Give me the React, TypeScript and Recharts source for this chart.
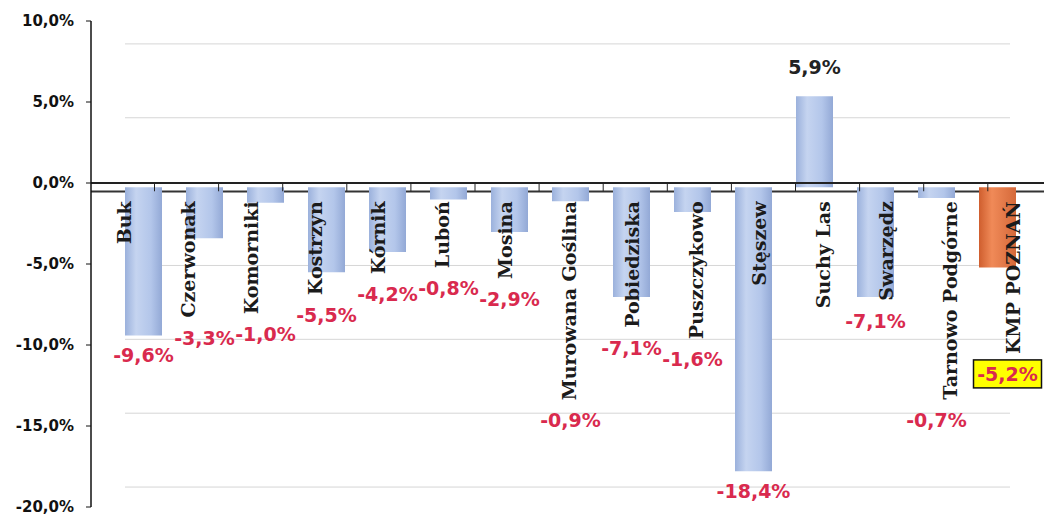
import { Bar, CartesianGrid, Cell, ComposedChart, LabelList, Line, ReferenceLine, XAxis, YAxis } from "recharts";

const categories = [
  "Buk",
  "Czerwonak",
  "Komorniki",
  "Kostrzyn",
  "Kórnik",
  "Luboń",
  "Mosina",
  "Murowana Goślina",
  "Pobiedziska",
  "Puszczykowo",
  "Stęszew",
  "Suchy Las",
  "Swarzędz",
  "Tarnowo Podgórne",
  "KMP POZNAŃ",
];
const values = [-9.6, -3.3, -1.0, -5.5, -4.2, -0.8, -2.9, -0.9, -7.1, -1.6, -18.4, 5.9, -7.1, -0.7, -5.2];
const yTicks = [-20, -15, -10, -5, 0, 5, 10];
const totalName = "KMP POZNAŃ";

const data = categories.map((name, i) => ({ name, value: values[i] }));

const pct = (v: number) => `${v.toFixed(1).replace(".", ",")}%`;

const nameFont = "bold 19px 'DejaVu Serif'";
let ctx: CanvasRenderingContext2D | null = null;
function textWidth(s: string) {
  if (!ctx) ctx = document.createElement("canvas").getContext("2d");
  if (!ctx) return s.length * 12.6;
  ctx.font = nameFont;
  return ctx.measureText(s).width;
}

// bar rect -> centre, top, bottom (negative bars come with negative height)
function barBox(props: any) {
  const vb = props.viewBox ?? props;
  const { x, y, width, height } = vb;
  return {
    cx: x + width / 2,
    top: Math.min(y, y + height),
    bottom: Math.max(y, y + height),
  };
}

function NameLabel(props: any) {
  const { index, value } = props;
  const { cx, top, bottom } = barBox(props);
  const zero = values[index] < 0 ? top : bottom;
  // names and floor ticks drift against the bars because of the 3d perspective
  const bx = cx - 12 + 2.5 * index;
  const ty = zero + 14;
  const tickX = cx + 11 + 3.1 * index;
  return (
    <g>
      {index < categories.length - 1 && (
        <line x1={tickX} x2={tickX} y1={zero - 5} y2={zero + 4} stroke="#222" strokeWidth={1} />
      )}
      <text
        x={bx}
        y={ty}
        transform={`rotate(-90 ${bx} ${ty})`}
        textAnchor="end"
        fontFamily="DejaVu Serif"
        fontWeight={700}
        fontSize={19}
        fill="#1b1b1b"
      >
        {value}
      </text>
    </g>
  );
}

function ValueLabel(props: any) {
  const { index } = props;
  const v = values[index];
  const { cx, top, bottom } = barBox(props);
  const common = {
    fontFamily: "DejaVu Sans",
    fontWeight: 700,
    fontSize: 19,
    textAnchor: "middle" as const,
    dominantBaseline: "central" as const,
  };
  if (v >= 0) {
    return (
      <text x={cx} y={top - 29} fill="#222" {...common}>
        {pct(v)}
      </text>
    );
  }
  const nameEnd = top + 14 + textWidth(categories[index]);
  const cy = Math.max(nameEnd, bottom) + 20;
  const isTotal = categories[index] === totalName;
  const lx = isTotal ? cx + 10 : cx;
  return (
    <g>
      {isTotal && (
        <rect x={lx - 34} y={cy - 14} width={68} height={28} fill="#ffff00" stroke="#111" strokeWidth={1.5} />
      )}
      <text x={lx} y={cy} fill="#d92a4e" {...common}>
        {pct(v)}
      </text>
    </g>
  );
}

export default function App() {
  return (
    <div style={{ position: "absolute", left: 0, top: 0, background: "#fff" }}>
      <ComposedChart width={1044} height={516} data={data} margin={{ top: 21, right: 0, bottom: 9, left: 0 }}>
        <defs>
          <linearGradient id="blueBar" x1="0" y1="0" x2="1" y2="0">
            <stop offset="0%" stopColor="#9bb1dc" />
            <stop offset="30%" stopColor="#c5d4f0" />
            <stop offset="70%" stopColor="#b3c6ea" />
            <stop offset="100%" stopColor="#93a9d6" />
          </linearGradient>
          <linearGradient id="orangeBar" x1="0" y1="0" x2="1" y2="0">
            <stop offset="0%" stopColor="#cf5e2e" />
            <stop offset="35%" stopColor="#f08a58" />
            <stop offset="100%" stopColor="#d5693a" />
          </linearGradient>
        </defs>
        <CartesianGrid
          yAxisId="wall"
          vertical={false}
          horizontalValues={yTicks.filter((t) => t !== 0)}
          stroke="#d6d6d6"
          x={125}
          width={885}
        />
        <CartesianGrid
          yAxisId="wall"
          vertical={false}
          horizontalValues={[0]}
          stroke="#333"
          strokeWidth={2}
          x={91}
          width={953}
        />
        <XAxis dataKey="name" hide padding={{ left: 22, right: 16 }} />
        <YAxis
          yAxisId="front"
          orientation="left"
          width={91}
          domain={[-20, 10]}
          ticks={yTicks}
          interval={0}
          tickFormatter={pct}
          axisLine={{ stroke: "#111", strokeWidth: 1.5 }}
          tickLine={{ stroke: "#111" }}
          tickSize={5}
          tickMargin={12}
          tick={{ fill: "#111", fontSize: 15, fontWeight: 700, fontFamily: "DejaVu Sans" }}
        />
        <YAxis yAxisId="bars" orientation="right" width={0} hide domain={[-20.71, 10.77]} allowDataOverflow />
        <YAxis yAxisId="wall" orientation="right" width={0} hide domain={[-21.35, 11.55]} allowDataOverflow />
        <ReferenceLine yAxisId="front" y={0} stroke="#222" strokeWidth={2} ifOverflow="visible" />
        {/* transparent series so the front (tick) axis gets its scale */}
        <Line
          yAxisId="front"
          dataKey="value"
          stroke="transparent"
          dot={false}
          activeDot={false}
          legendType="none"
          isAnimationActive={false}
        />
        <Bar yAxisId="bars" dataKey="value" barSize={37} isAnimationActive={false}>
          {data.map((d) => (
            <Cell key={d.name} fill={d.name === totalName ? "url(#orangeBar)" : "url(#blueBar)"} />
          ))}
          <LabelList dataKey="name" content={NameLabel} />
          <LabelList dataKey="value" content={ValueLabel} />
        </Bar>
      </ComposedChart>
    </div>
  );
}
